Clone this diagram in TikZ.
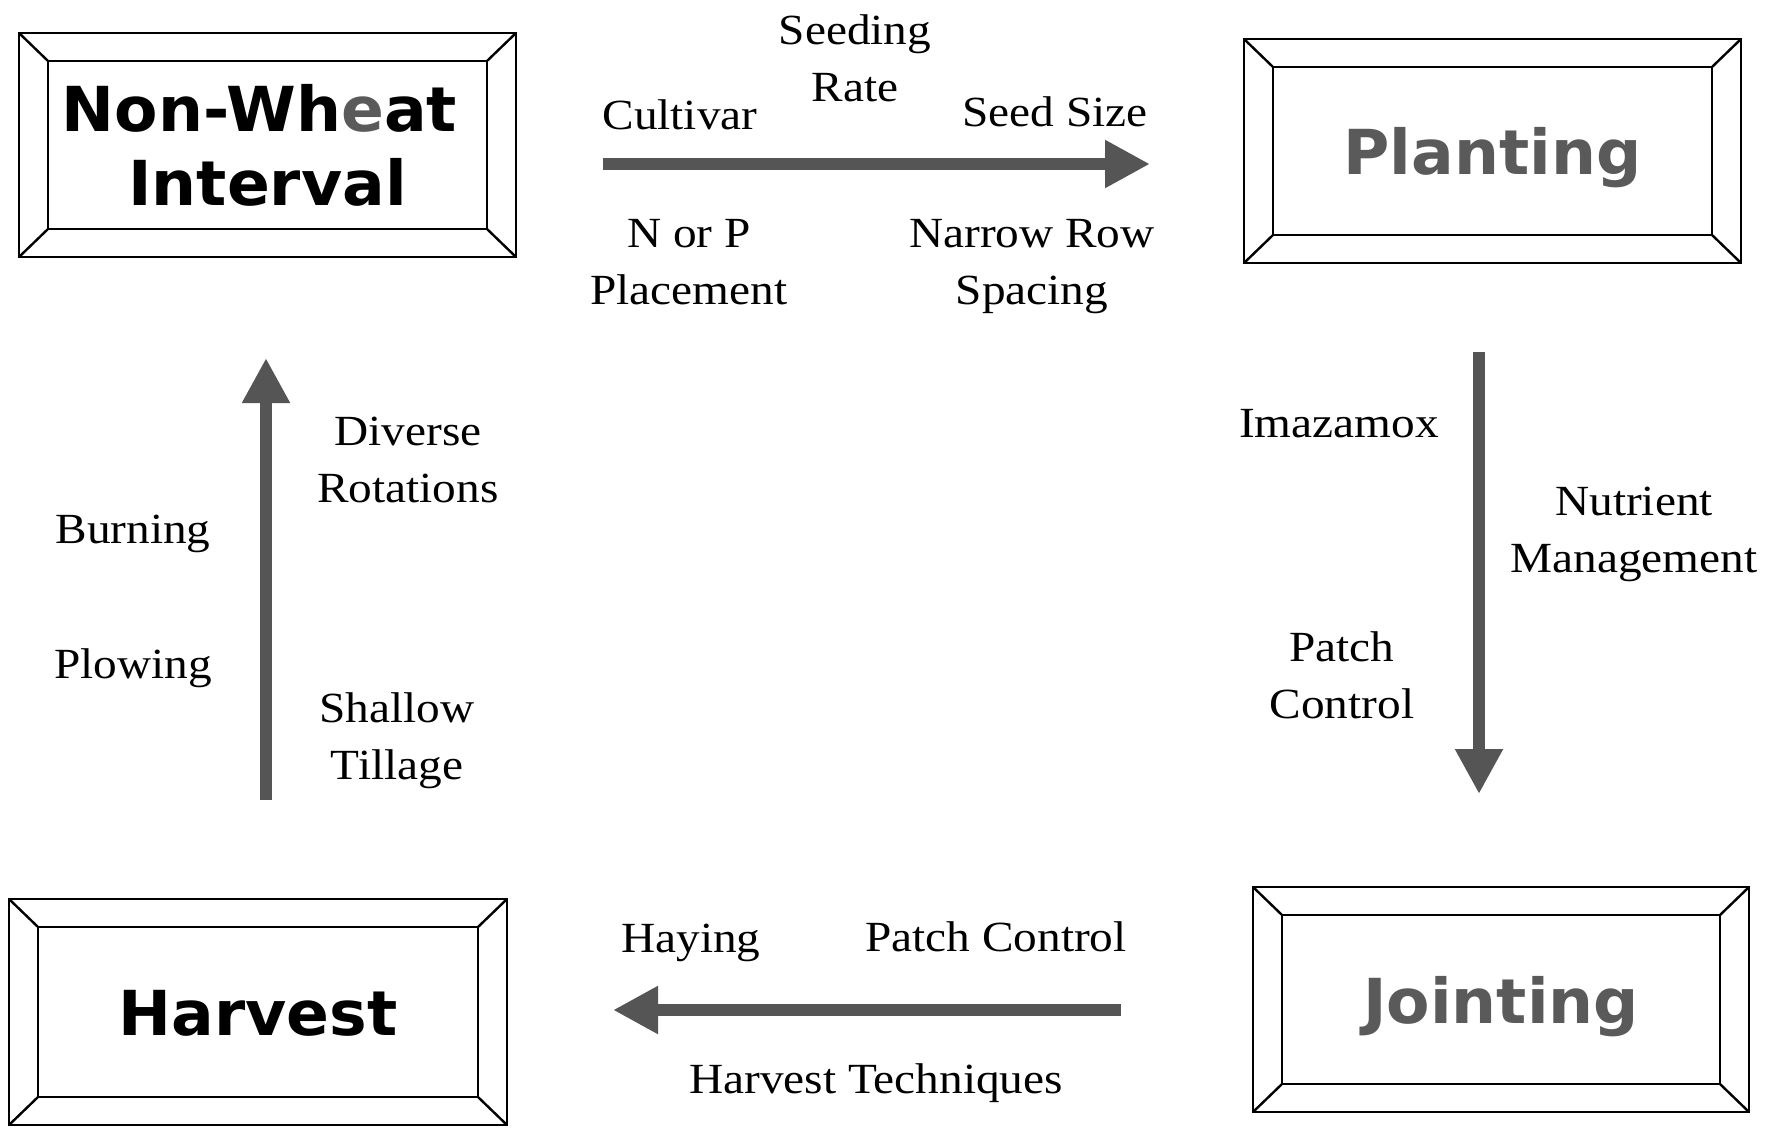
\documentclass[tikz,border=0pt]{standalone}
\usepackage{fontspec}
\setmainfont{Liberation Serif}[FakeStretch=1.1]
\newfontfamily\boxfont{DejaVu Sans}[FakeStretch=1.02]
\usetikzlibrary{arrows.meta}
\definecolor{arrowgray}{HTML}{555555}
\definecolor{titlegray}{HTML}{5A5A5A}
\begin{document}
\begin{tikzpicture}[x=1pt,y=-1pt,
  stage/.style={draw=black, line width=2.6pt, outer sep=0pt, inner sep=0pt,
    font=\boxfont\bfseries\fontsize{62}{74}\selectfont, align=center},
  oneline/.style={text height=47pt, text depth=0pt},
  bevel/.style={draw=black, line width=2.4pt},
  lbl/.style={font=\fontsize{43}{57}\selectfont, align=center, anchor=base, inner sep=0pt},
  flow/.style={draw=arrowgray, line width=12pt, -{Triangle[length=45pt,width=45pt]}}
]
\useasboundingbox (0,0) rectangle (1784,1127);

% stage boxes
\node[stage, minimum width=497pt, minimum height=224pt] (nw) at (267.5,145)
  {Non-Wh\textcolor{titlegray}{e}at\hspace*{16pt}\\Interval};
\node[stage, oneline, text=titlegray, minimum width=497pt, minimum height=224pt] (pl) at (1492.5,151) {Planting};
\node[stage, oneline, minimum width=498pt, minimum height=226pt] (hv) at (258,1012) {Harvest};
\node[stage, oneline, text=titlegray, minimum width=496pt, minimum height=225pt] (jt) at (1501,999.5) {Jointing};

\foreach \n in {nw,pl,hv,jt}{
  \draw[bevel] ([shift={(29,28)}]\n.north west) rectangle ([shift={(-29,-28)}]\n.south east);
  \draw[bevel] (\n.north west) -- ([shift={(29,28)}]\n.north west);
  \draw[bevel] (\n.north east) -- ([shift={(-29,28)}]\n.north east);
  \draw[bevel] (\n.south west) -- ([shift={(29,-28)}]\n.south west);
  \draw[bevel] (\n.south east) -- ([shift={(-29,-28)}]\n.south east);
}

% arrow ends
\coordinate (t1) at (603,164);  \coordinate (t2) at (1150,164);
\coordinate (r1) at (1479,352); \coordinate (r2) at (1479,794);
\coordinate (b1) at (1121,1010); \coordinate (b2) at (613,1010);
\coordinate (l1) at (266,800);  \coordinate (l2) at (266,358);

\draw[flow] (t1) -- (t2);
\draw[flow] (r1) -- (r2);
\draw[flow] (b1) -- (b2);
\draw[flow] (l1) -- (l2);

% top labels
\node[lbl] (seedrate) at (855,101) {Seeding\\Rate};
\node[lbl] (cultivar) at (680,129) {Cultivar};
\node[lbl] (seedsize) at (1055,126) {Seed Size};
\node[lbl] (norp) at (689,304) {N or P\\Placement};
\node[lbl] (narrow) at (1032,304) {Narrow Row\\Spacing};

% right labels
\node[lbl] (imaz) at (1339,437) {Imazamox};
\node[lbl] (nutr) at (1634,572) {Nutrient\\Management};
\node[lbl] (patchv) at (1342,718) {Patch\\Control};

% bottom labels
\node[lbl] (haying) at (691,952) {Haying};
\node[lbl] (patchh) at (996,951) {Patch Control};
\node[lbl] (htech) at (876,1093) {Harvest Techniques};

% left labels
\node[lbl] (divrot) at (408,502) {Diverse\\Rotations};
\node[lbl] (burn) at (133,543) {Burning};
\node[lbl] (plow) at (133,678) {Plowing};
\node[lbl] (shallow) at (397,779) {Shallow\\Tillage};
\end{tikzpicture}
\end{document}
